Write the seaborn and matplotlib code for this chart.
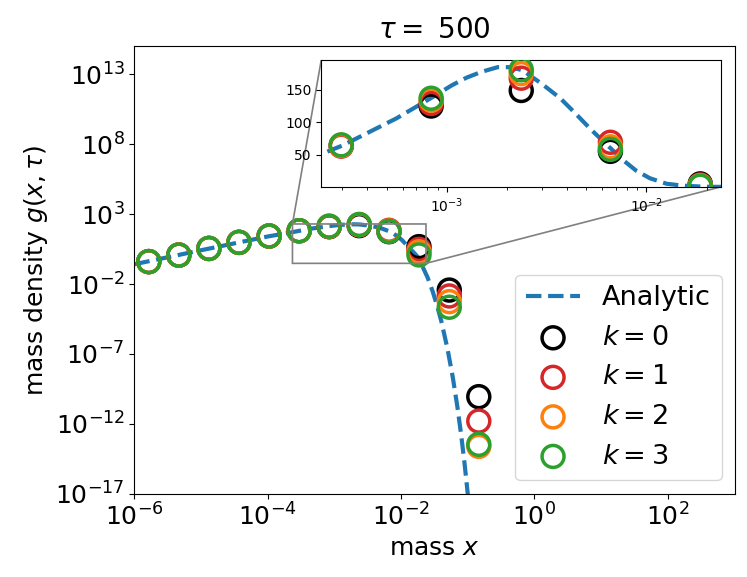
import numpy as np
import matplotlib
matplotlib.use("Agg")
import matplotlib.pyplot as plt
import matplotlib.ticker as mticker
import seaborn as sns

# analytic curve
curve_x = [1e-6, 1e-5, 1e-4, 2.36e-4, 3.0e-4, 4.1e-4, 5.6e-4, 8.3e-4, 1.06e-3,
           1.26e-3, 1.5e-3, 1.8e-3, 2.1e-3, 2.4e-3, 3.0e-3, 3.7e-3, 4.3e-3,
           5.3e-3, 6.6e-3, 7.6e-3, 8.9e-3, 1.04e-2, 1.26e-2, 1.52e-2, 1.86e-2,
           2.0e-2, 2.5e-2, 3.0e-2, 3.5e-2, 4.0e-2, 5.0e-2, 6.0e-2, 7.0e-2,
           8.0e-2, 9.0e-2, 1.0e-1, 1.1e-1]
curve_y = [0.26, 2.6, 25, 51, 64, 85, 106, 137, 157,
           169, 178, 185, 185, 180, 159, 137, 117,
           88, 60, 42, 25, 13.5, 5.0, 2.0, 0.7,
           0.3, 3e-2, 2.8e-3, 2.5e-4, 2.5e-5, 2.2e-7, 2e-9, 1.8e-11,
           1.6e-13, 1.4e-15, 1.2e-17, 1e-19]

# numerical solutions
mass = [1.64e-6, 4.63e-6, 1.31e-5, 3.7e-5, 1.05e-4, 2.96e-4, 8.35e-4,
        2.36e-3, 6.6e-3, 1.86e-2, 5.3e-2, 1.47e-1]
g_k0 = [0.4, 1.17, 3.5, 9.5, 27, 64, 125, 149, 55, 4.7, 3.7e-3, 8.9e-11]
g_k1 = [0.4, 1.17, 3.5, 9.5, 27, 63, 129, 168, 69, 3.0, 1.4e-3, 1.6e-12]
g_k2 = [0.4, 1.17, 3.5, 9.5, 27, 64, 134, 175, 62, 2.0, 5.5e-4, 2.5e-14]
g_k3 = [0.4, 1.17, 3.5, 9.5, 27, 65, 137, 181, 58, 1.2, 2.2e-4, 3.5e-14]

series = [("$k=0$", g_k0, "black"), ("$k=1$", g_k1, "tab:red"),
          ("$k=2$", g_k2, "tab:orange"), ("$k=3$", g_k3, "tab:green")]

fs = 18
fig, ax = plt.subplots(figsize=(7.47, 5.77), dpi=100)
fig.subplots_adjust(left=0.180, right=0.984, top=0.920, bottom=0.144)


def draw(a, size):
    a.set_xscale("log")
    sns.lineplot(x=curve_x, y=curve_y, ax=a, color="tab:blue", lw=3, ls="--",
                 sort=False, estimator=None, label="Analytic")
    for lab, vals, col in series:
        sns.scatterplot(x=mass, y=vals, ax=a, s=size, facecolors="none",
                        edgecolor=col, linewidth=2.5, label=lab, zorder=3)


ax.set_yscale("log")
draw(ax, 250)
ax.set_xlim(1e-6, 1.03e3)
ax.set_ylim(1e-17, 1e15)
ax.set_xticks([1e-6, 1e-4, 1e-2, 1e0, 1e2])
ax.set_yticks([1e-17, 1e-12, 1e-7, 1e-2, 1e3, 1e8, 1e13])
ax.xaxis.set_minor_locator(mticker.NullLocator())
ax.yaxis.set_minor_locator(mticker.NullLocator())
ax.tick_params(labelsize=fs)
ax.set_xlabel("mass $x$", fontsize=fs)
ax.set_ylabel(r"mass density $g(x,\tau)$", fontsize=fs)
ax.set_title(r"$\tau =$ 500", fontsize=20)
ax.legend(loc="lower right", fontsize=19.5)

# zoomed inset around the peak
axins = ax.inset_axes([0.311, 0.686, 0.666, 0.283])
draw(axins, 250)
axins.set_xlim(2.35e-4, 2.37e-2)
axins.set_ylim(0.3, 196)
axins.set_xticks([1e-3, 1e-2])
axins.set_yticks([50, 100, 150])
axins.xaxis.set_minor_formatter(mticker.NullFormatter())
axins.set_xlabel("")
axins.set_ylabel("")
axins.legend().remove()
axins.tick_params(labelsize=10)
ax.indicate_inset_zoom(axins, edgecolor="0.5", alpha=1, linewidth=1.2)

fig.savefig("out.png", dpi=100)
